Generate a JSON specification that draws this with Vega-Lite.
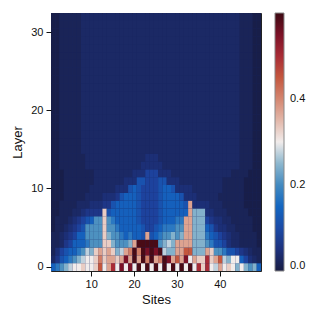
{"$schema":"https://vega.github.io/schema/vega-lite/v6.json","width":210,"height":258,"autosize":{"type":"none"},"padding":{"left":51,"top":13,"right":58,"bottom":48},"config":{"font":"Liberation Sans","view":{"stroke":"#222","strokeWidth":1,"fill":"#1b2862"}},
"data":{"values":[
{"s":1,"l":0,"v":0.14},{"s":2,"l":0,"v":0.175},{"s":3,"l":0,"v":0.21},{"s":4,"l":0,"v":0.245},{"s":5,"l":0,"v":0.275},{"s":6,"l":0,"v":0.3},{"s":7,"l":0,"v":0.3},{"s":8,"l":0,"v":0.33},{"s":9,"l":0,"v":0.3},{"s":10,"l":0,"v":0.3},{"s":11,"l":0,"v":0.33},{"s":12,"l":0,"v":0.45},{"s":13,"l":0,"v":0.3},{"s":14,"l":0,"v":0.37},{"s":15,"l":0,"v":0.5},{"s":16,"l":0,"v":0.3},{"s":17,"l":0,"v":0.55},{"s":18,"l":0,"v":0.3},{"s":19,"l":0,"v":0.55},{"s":20,"l":0,"v":0.3},{"s":21,"l":0,"v":0.59},{"s":22,"l":0,"v":0.3},{"s":23,"l":0,"v":0.59},{"s":24,"l":0,"v":0.3},{"s":25,"l":0,"v":0.59},{"s":26,"l":0,"v":0.3},{"s":27,"l":0,"v":0.59},{"s":28,"l":0,"v":0.3},{"s":29,"l":0,"v":0.59},{"s":30,"l":0,"v":0.3},{"s":31,"l":0,"v":0.59},{"s":32,"l":0,"v":0.3},{"s":33,"l":0,"v":0.59},{"s":34,"l":0,"v":0.3},{"s":35,"l":0,"v":0.5},{"s":36,"l":0,"v":0.33},{"s":37,"l":0,"v":0.5},{"s":38,"l":0,"v":0.3},{"s":39,"l":0,"v":0.275},{"s":40,"l":0,"v":0.37},{"s":41,"l":0,"v":0.3},{"s":42,"l":0,"v":0.33},{"s":43,"l":0,"v":0.3},{"s":44,"l":0,"v":0.245},{"s":45,"l":0,"v":0.3},{"s":46,"l":0,"v":0.245},{"s":47,"l":0,"v":0.21},{"s":48,"l":0,"v":0.245},{"s":49,"l":0,"v":0.14},
{"s":1,"l":1,"v":0.03},{"s":2,"l":1,"v":0.06},{"s":3,"l":1,"v":0.115},{"s":4,"l":1,"v":0.14},{"s":5,"l":1,"v":0.175},{"s":6,"l":1,"v":0.21},{"s":7,"l":1,"v":0.245},{"s":8,"l":1,"v":0.275},{"s":9,"l":1,"v":0.3},{"s":10,"l":1,"v":0.3},{"s":11,"l":1,"v":0.33},{"s":12,"l":1,"v":0.41},{"s":13,"l":1,"v":0.33},{"s":14,"l":1,"v":0.37},{"s":15,"l":1,"v":0.37},{"s":16,"l":1,"v":0.33},{"s":17,"l":1,"v":0.37},{"s":18,"l":1,"v":0.55},{"s":19,"l":1,"v":0.37},{"s":20,"l":1,"v":0.59},{"s":21,"l":1,"v":0.37},{"s":22,"l":1,"v":0.59},{"s":23,"l":1,"v":0.41},{"s":24,"l":1,"v":0.59},{"s":25,"l":1,"v":0.37},{"s":26,"l":1,"v":0.41},{"s":27,"l":1,"v":0.59},{"s":28,"l":1,"v":0.55},{"s":29,"l":1,"v":0.37},{"s":30,"l":1,"v":0.45},{"s":31,"l":1,"v":0.37},{"s":32,"l":1,"v":0.55},{"s":33,"l":1,"v":0.3},{"s":34,"l":1,"v":0.37},{"s":35,"l":1,"v":0.33},{"s":36,"l":1,"v":0.33},{"s":37,"l":1,"v":0.5},{"s":38,"l":1,"v":0.33},{"s":39,"l":1,"v":0.37},{"s":40,"l":1,"v":0.45},{"s":41,"l":1,"v":0.275},{"s":42,"l":1,"v":0.245},{"s":43,"l":1,"v":0.3},{"s":44,"l":1,"v":0.3},{"s":45,"l":1,"v":0.14},{"s":46,"l":1,"v":0.085},{"s":47,"l":1,"v":0.045},{"s":48,"l":1,"v":0.03},{"s":49,"l":1,"v":0.018},
{"s":1,"l":2,"v":0.018},{"s":2,"l":2,"v":0.045},{"s":3,"l":2,"v":0.085},{"s":4,"l":2,"v":0.115},{"s":5,"l":2,"v":0.14},{"s":6,"l":2,"v":0.14},{"s":7,"l":2,"v":0.175},{"s":8,"l":2,"v":0.21},{"s":9,"l":2,"v":0.275},{"s":10,"l":2,"v":0.245},{"s":11,"l":2,"v":0.33},{"s":12,"l":2,"v":0.37},{"s":13,"l":2,"v":0.33},{"s":14,"l":2,"v":0.37},{"s":15,"l":2,"v":0.33},{"s":16,"l":2,"v":0.245},{"s":17,"l":2,"v":0.275},{"s":18,"l":2,"v":0.37},{"s":19,"l":2,"v":0.41},{"s":20,"l":2,"v":0.59},{"s":21,"l":2,"v":0.41},{"s":22,"l":2,"v":0.59},{"s":23,"l":2,"v":0.55},{"s":24,"l":2,"v":0.59},{"s":25,"l":2,"v":0.55},{"s":26,"l":2,"v":0.59},{"s":27,"l":2,"v":0.275},{"s":28,"l":2,"v":0.245},{"s":29,"l":2,"v":0.245},{"s":30,"l":2,"v":0.37},{"s":31,"l":2,"v":0.37},{"s":32,"l":2,"v":0.45},{"s":33,"l":2,"v":0.45},{"s":34,"l":2,"v":0.245},{"s":35,"l":2,"v":0.245},{"s":36,"l":2,"v":0.245},{"s":37,"l":2,"v":0.37},{"s":38,"l":2,"v":0.33},{"s":39,"l":2,"v":0.21},{"s":40,"l":2,"v":0.21},{"s":41,"l":2,"v":0.175},{"s":42,"l":2,"v":0.115},{"s":43,"l":2,"v":0.115},{"s":44,"l":2,"v":0.085},{"s":45,"l":2,"v":0.06},{"s":46,"l":2,"v":0.045},{"s":47,"l":2,"v":0.03},{"s":48,"l":2,"v":0.018},{"s":49,"l":2,"v":0.018},
{"s":1,"l":3,"v":0.018},{"s":2,"l":3,"v":0.018},{"s":3,"l":3,"v":0.03},{"s":4,"l":3,"v":0.06},{"s":5,"l":3,"v":0.085},{"s":6,"l":3,"v":0.14},{"s":7,"l":3,"v":0.14},{"s":8,"l":3,"v":0.14},{"s":9,"l":3,"v":0.175},{"s":10,"l":3,"v":0.21},{"s":11,"l":3,"v":0.21},{"s":12,"l":3,"v":0.21},{"s":13,"l":3,"v":0.33},{"s":14,"l":3,"v":0.33},{"s":15,"l":3,"v":0.245},{"s":16,"l":3,"v":0.21},{"s":17,"l":3,"v":0.21},{"s":18,"l":3,"v":0.21},{"s":19,"l":3,"v":0.245},{"s":20,"l":3,"v":0.37},{"s":21,"l":3,"v":0.59},{"s":22,"l":3,"v":0.59},{"s":23,"l":3,"v":0.59},{"s":24,"l":3,"v":0.59},{"s":25,"l":3,"v":0.59},{"s":26,"l":3,"v":0.21},{"s":27,"l":3,"v":0.245},{"s":28,"l":3,"v":0.275},{"s":29,"l":3,"v":0.245},{"s":30,"l":3,"v":0.37},{"s":31,"l":3,"v":0.37},{"s":32,"l":3,"v":0.37},{"s":33,"l":3,"v":0.37},{"s":34,"l":3,"v":0.245},{"s":35,"l":3,"v":0.245},{"s":36,"l":3,"v":0.245},{"s":37,"l":3,"v":0.21},{"s":38,"l":3,"v":0.175},{"s":39,"l":3,"v":0.115},{"s":40,"l":3,"v":0.115},{"s":41,"l":3,"v":0.085},{"s":42,"l":3,"v":0.045},{"s":43,"l":3,"v":0.03},{"s":44,"l":3,"v":0.03},{"s":45,"l":3,"v":0.018},{"s":46,"l":3,"v":0.018},{"s":47,"l":3,"v":0.018},{"s":48,"l":3,"v":0.018},{"s":49,"l":3,"v":0.005},
{"s":1,"l":4,"v":0.018},{"s":2,"l":4,"v":0.018},{"s":3,"l":4,"v":0.03},{"s":4,"l":4,"v":0.045},{"s":5,"l":4,"v":0.06},{"s":6,"l":4,"v":0.085},{"s":7,"l":4,"v":0.14},{"s":8,"l":4,"v":0.14},{"s":9,"l":4,"v":0.21},{"s":10,"l":4,"v":0.21},{"s":11,"l":4,"v":0.21},{"s":12,"l":4,"v":0.21},{"s":13,"l":4,"v":0.33},{"s":14,"l":4,"v":0.245},{"s":15,"l":4,"v":0.21},{"s":16,"l":4,"v":0.21},{"s":17,"l":4,"v":0.175},{"s":18,"l":4,"v":0.14},{"s":19,"l":4,"v":0.175},{"s":20,"l":4,"v":0.14},{"s":21,"l":4,"v":0.14},{"s":22,"l":4,"v":0.115},{"s":23,"l":4,"v":0.37},{"s":24,"l":4,"v":0.115},{"s":25,"l":4,"v":0.14},{"s":26,"l":4,"v":0.175},{"s":27,"l":4,"v":0.21},{"s":28,"l":4,"v":0.21},{"s":29,"l":4,"v":0.245},{"s":30,"l":4,"v":0.21},{"s":31,"l":4,"v":0.245},{"s":32,"l":4,"v":0.37},{"s":33,"l":4,"v":0.37},{"s":34,"l":4,"v":0.245},{"s":35,"l":4,"v":0.245},{"s":36,"l":4,"v":0.245},{"s":37,"l":4,"v":0.175},{"s":38,"l":4,"v":0.14},{"s":39,"l":4,"v":0.115},{"s":40,"l":4,"v":0.085},{"s":41,"l":4,"v":0.06},{"s":42,"l":4,"v":0.045},{"s":43,"l":4,"v":0.03},{"s":44,"l":4,"v":0.03},{"s":45,"l":4,"v":0.018},{"s":46,"l":4,"v":0.018},{"s":47,"l":4,"v":0.018},{"s":48,"l":4,"v":0.018},{"s":49,"l":4,"v":0.005},
{"s":1,"l":5,"v":0.005},{"s":2,"l":5,"v":0.018},{"s":3,"l":5,"v":0.018},{"s":4,"l":5,"v":0.03},{"s":5,"l":5,"v":0.045},{"s":6,"l":5,"v":0.06},{"s":7,"l":5,"v":0.085},{"s":8,"l":5,"v":0.115},{"s":9,"l":5,"v":0.21},{"s":10,"l":5,"v":0.21},{"s":11,"l":5,"v":0.21},{"s":12,"l":5,"v":0.21},{"s":13,"l":5,"v":0.33},{"s":14,"l":5,"v":0.21},{"s":15,"l":5,"v":0.21},{"s":16,"l":5,"v":0.175},{"s":17,"l":5,"v":0.14},{"s":18,"l":5,"v":0.14},{"s":19,"l":5,"v":0.14},{"s":20,"l":5,"v":0.14},{"s":21,"l":5,"v":0.14},{"s":22,"l":5,"v":0.115},{"s":23,"l":5,"v":0.085},{"s":24,"l":5,"v":0.085},{"s":25,"l":5,"v":0.115},{"s":26,"l":5,"v":0.14},{"s":27,"l":5,"v":0.175},{"s":28,"l":5,"v":0.175},{"s":29,"l":5,"v":0.175},{"s":30,"l":5,"v":0.21},{"s":31,"l":5,"v":0.21},{"s":32,"l":5,"v":0.37},{"s":33,"l":5,"v":0.37},{"s":34,"l":5,"v":0.245},{"s":35,"l":5,"v":0.245},{"s":36,"l":5,"v":0.245},{"s":37,"l":5,"v":0.14},{"s":38,"l":5,"v":0.115},{"s":39,"l":5,"v":0.06},{"s":40,"l":5,"v":0.045},{"s":41,"l":5,"v":0.045},{"s":42,"l":5,"v":0.03},{"s":43,"l":5,"v":0.03},{"s":44,"l":5,"v":0.018},{"s":45,"l":5,"v":0.018},{"s":46,"l":5,"v":0.018},{"s":47,"l":5,"v":0.018},{"s":48,"l":5,"v":0.005},{"s":49,"l":5,"v":0.005},
{"s":1,"l":6,"v":0.005},{"s":2,"l":6,"v":0.018},{"s":3,"l":6,"v":0.018},{"s":4,"l":6,"v":0.018},{"s":5,"l":6,"v":0.03},{"s":6,"l":6,"v":0.045},{"s":7,"l":6,"v":0.06},{"s":8,"l":6,"v":0.085},{"s":9,"l":6,"v":0.115},{"s":10,"l":6,"v":0.14},{"s":11,"l":6,"v":0.21},{"s":12,"l":6,"v":0.21},{"s":13,"l":6,"v":0.33},{"s":14,"l":6,"v":0.21},{"s":15,"l":6,"v":0.175},{"s":16,"l":6,"v":0.14},{"s":17,"l":6,"v":0.14},{"s":18,"l":6,"v":0.14},{"s":19,"l":6,"v":0.14},{"s":20,"l":6,"v":0.14},{"s":21,"l":6,"v":0.115},{"s":22,"l":6,"v":0.085},{"s":23,"l":6,"v":0.085},{"s":24,"l":6,"v":0.085},{"s":25,"l":6,"v":0.085},{"s":26,"l":6,"v":0.115},{"s":27,"l":6,"v":0.14},{"s":28,"l":6,"v":0.14},{"s":29,"l":6,"v":0.14},{"s":30,"l":6,"v":0.175},{"s":31,"l":6,"v":0.175},{"s":32,"l":6,"v":0.37},{"s":33,"l":6,"v":0.37},{"s":34,"l":6,"v":0.245},{"s":35,"l":6,"v":0.245},{"s":36,"l":6,"v":0.245},{"s":37,"l":6,"v":0.085},{"s":38,"l":6,"v":0.06},{"s":39,"l":6,"v":0.045},{"s":40,"l":6,"v":0.045},{"s":41,"l":6,"v":0.03},{"s":42,"l":6,"v":0.03},{"s":43,"l":6,"v":0.018},{"s":44,"l":6,"v":0.018},{"s":45,"l":6,"v":0.018},{"s":46,"l":6,"v":0.018},{"s":47,"l":6,"v":0.018},{"s":48,"l":6,"v":0.005},{"s":49,"l":6,"v":0.005},
{"s":1,"l":7,"v":0.005},{"s":2,"l":7,"v":0.005},{"s":3,"l":7,"v":0.018},{"s":4,"l":7,"v":0.018},{"s":5,"l":7,"v":0.018},{"s":6,"l":7,"v":0.03},{"s":7,"l":7,"v":0.03},{"s":8,"l":7,"v":0.045},{"s":9,"l":7,"v":0.06},{"s":10,"l":7,"v":0.06},{"s":11,"l":7,"v":0.06},{"s":12,"l":7,"v":0.06},{"s":13,"l":7,"v":0.33},{"s":14,"l":7,"v":0.115},{"s":15,"l":7,"v":0.14},{"s":16,"l":7,"v":0.14},{"s":17,"l":7,"v":0.14},{"s":18,"l":7,"v":0.14},{"s":19,"l":7,"v":0.14},{"s":20,"l":7,"v":0.14},{"s":21,"l":7,"v":0.115},{"s":22,"l":7,"v":0.085},{"s":23,"l":7,"v":0.085},{"s":24,"l":7,"v":0.085},{"s":25,"l":7,"v":0.085},{"s":26,"l":7,"v":0.115},{"s":27,"l":7,"v":0.14},{"s":28,"l":7,"v":0.14},{"s":29,"l":7,"v":0.14},{"s":30,"l":7,"v":0.14},{"s":31,"l":7,"v":0.14},{"s":32,"l":7,"v":0.14},{"s":33,"l":7,"v":0.37},{"s":34,"l":7,"v":0.245},{"s":35,"l":7,"v":0.245},{"s":36,"l":7,"v":0.245},{"s":37,"l":7,"v":0.045},{"s":38,"l":7,"v":0.045},{"s":39,"l":7,"v":0.03},{"s":40,"l":7,"v":0.03},{"s":41,"l":7,"v":0.03},{"s":42,"l":7,"v":0.018},{"s":43,"l":7,"v":0.018},{"s":44,"l":7,"v":0.018},{"s":45,"l":7,"v":0.018},{"s":46,"l":7,"v":0.018},{"s":47,"l":7,"v":0.005},{"s":48,"l":7,"v":0.005},{"s":49,"l":7,"v":0.005},
{"s":1,"l":8,"v":0.005},{"s":2,"l":8,"v":0.005},{"s":3,"l":8,"v":0.018},{"s":4,"l":8,"v":0.018},{"s":5,"l":8,"v":0.018},{"s":6,"l":8,"v":0.018},{"s":7,"l":8,"v":0.03},{"s":8,"l":8,"v":0.03},{"s":9,"l":8,"v":0.03},{"s":10,"l":8,"v":0.045},{"s":11,"l":8,"v":0.045},{"s":12,"l":8,"v":0.045},{"s":13,"l":8,"v":0.06},{"s":14,"l":8,"v":0.06},{"s":15,"l":8,"v":0.115},{"s":16,"l":8,"v":0.14},{"s":17,"l":8,"v":0.14},{"s":18,"l":8,"v":0.14},{"s":19,"l":8,"v":0.14},{"s":20,"l":8,"v":0.14},{"s":21,"l":8,"v":0.115},{"s":22,"l":8,"v":0.085},{"s":23,"l":8,"v":0.085},{"s":24,"l":8,"v":0.085},{"s":25,"l":8,"v":0.085},{"s":26,"l":8,"v":0.115},{"s":27,"l":8,"v":0.14},{"s":28,"l":8,"v":0.14},{"s":29,"l":8,"v":0.14},{"s":30,"l":8,"v":0.14},{"s":31,"l":8,"v":0.14},{"s":32,"l":8,"v":0.115},{"s":33,"l":8,"v":0.37},{"s":34,"l":8,"v":0.045},{"s":35,"l":8,"v":0.045},{"s":36,"l":8,"v":0.045},{"s":37,"l":8,"v":0.045},{"s":38,"l":8,"v":0.03},{"s":39,"l":8,"v":0.03},{"s":40,"l":8,"v":0.03},{"s":41,"l":8,"v":0.018},{"s":42,"l":8,"v":0.018},{"s":43,"l":8,"v":0.018},{"s":44,"l":8,"v":0.018},{"s":45,"l":8,"v":0.018},{"s":46,"l":8,"v":0.005},{"s":47,"l":8,"v":0.005},{"s":48,"l":8,"v":0.005},{"s":49,"l":8,"v":0.005},
{"s":1,"l":9,"v":0.005},{"s":2,"l":9,"v":0.005},{"s":3,"l":9,"v":0.005},{"s":4,"l":9,"v":0.018},{"s":5,"l":9,"v":0.018},{"s":6,"l":9,"v":0.018},{"s":7,"l":9,"v":0.018},{"s":8,"l":9,"v":0.018},{"s":9,"l":9,"v":0.03},{"s":10,"l":9,"v":0.03},{"s":11,"l":9,"v":0.03},{"s":12,"l":9,"v":0.03},{"s":13,"l":9,"v":0.045},{"s":14,"l":9,"v":0.045},{"s":15,"l":9,"v":0.045},{"s":16,"l":9,"v":0.06},{"s":17,"l":9,"v":0.115},{"s":18,"l":9,"v":0.14},{"s":19,"l":9,"v":0.14},{"s":20,"l":9,"v":0.14},{"s":21,"l":9,"v":0.115},{"s":22,"l":9,"v":0.085},{"s":23,"l":9,"v":0.085},{"s":24,"l":9,"v":0.085},{"s":25,"l":9,"v":0.085},{"s":26,"l":9,"v":0.115},{"s":27,"l":9,"v":0.14},{"s":28,"l":9,"v":0.14},{"s":29,"l":9,"v":0.14},{"s":30,"l":9,"v":0.14},{"s":31,"l":9,"v":0.115},{"s":32,"l":9,"v":0.045},{"s":33,"l":9,"v":0.045},{"s":34,"l":9,"v":0.045},{"s":35,"l":9,"v":0.03},{"s":36,"l":9,"v":0.03},{"s":37,"l":9,"v":0.03},{"s":38,"l":9,"v":0.03},{"s":39,"l":9,"v":0.03},{"s":40,"l":9,"v":0.018},{"s":41,"l":9,"v":0.018},{"s":42,"l":9,"v":0.018},{"s":43,"l":9,"v":0.018},{"s":44,"l":9,"v":0.018},{"s":45,"l":9,"v":0.018},{"s":46,"l":9,"v":0.005},{"s":47,"l":9,"v":0.005},{"s":48,"l":9,"v":0.005},{"s":49,"l":9,"v":0.005},
{"s":1,"l":10,"v":0.005},{"s":2,"l":10,"v":0.005},{"s":3,"l":10,"v":0.005},{"s":4,"l":10,"v":0.018},{"s":5,"l":10,"v":0.018},{"s":6,"l":10,"v":0.018},{"s":7,"l":10,"v":0.018},{"s":8,"l":10,"v":0.018},{"s":9,"l":10,"v":0.018},{"s":10,"l":10,"v":0.03},{"s":11,"l":10,"v":0.03},{"s":12,"l":10,"v":0.03},{"s":13,"l":10,"v":0.03},{"s":14,"l":10,"v":0.03},{"s":15,"l":10,"v":0.03},{"s":16,"l":10,"v":0.045},{"s":17,"l":10,"v":0.045},{"s":18,"l":10,"v":0.045},{"s":19,"l":10,"v":0.115},{"s":20,"l":10,"v":0.14},{"s":21,"l":10,"v":0.115},{"s":22,"l":10,"v":0.085},{"s":23,"l":10,"v":0.085},{"s":24,"l":10,"v":0.085},{"s":25,"l":10,"v":0.085},{"s":26,"l":10,"v":0.115},{"s":27,"l":10,"v":0.14},{"s":28,"l":10,"v":0.14},{"s":29,"l":10,"v":0.115},{"s":30,"l":10,"v":0.045},{"s":31,"l":10,"v":0.045},{"s":32,"l":10,"v":0.045},{"s":33,"l":10,"v":0.045},{"s":34,"l":10,"v":0.03},{"s":35,"l":10,"v":0.03},{"s":36,"l":10,"v":0.03},{"s":37,"l":10,"v":0.03},{"s":38,"l":10,"v":0.03},{"s":39,"l":10,"v":0.03},{"s":40,"l":10,"v":0.03},{"s":41,"l":10,"v":0.018},{"s":42,"l":10,"v":0.018},{"s":43,"l":10,"v":0.018},{"s":44,"l":10,"v":0.018},{"s":45,"l":10,"v":0.018},{"s":46,"l":10,"v":0.005},{"s":47,"l":10,"v":0.005},{"s":48,"l":10,"v":0.005},{"s":49,"l":10,"v":0.005},
{"s":1,"l":11,"v":0.005},{"s":2,"l":11,"v":0.005},{"s":3,"l":11,"v":0.005},{"s":4,"l":11,"v":0.018},{"s":5,"l":11,"v":0.018},{"s":6,"l":11,"v":0.018},{"s":7,"l":11,"v":0.018},{"s":8,"l":11,"v":0.018},{"s":9,"l":11,"v":0.018},{"s":10,"l":11,"v":0.018},{"s":11,"l":11,"v":0.03},{"s":12,"l":11,"v":0.03},{"s":13,"l":11,"v":0.03},{"s":14,"l":11,"v":0.03},{"s":15,"l":11,"v":0.03},{"s":16,"l":11,"v":0.03},{"s":17,"l":11,"v":0.03},{"s":18,"l":11,"v":0.045},{"s":19,"l":11,"v":0.045},{"s":20,"l":11,"v":0.045},{"s":21,"l":11,"v":0.115},{"s":22,"l":11,"v":0.115},{"s":23,"l":11,"v":0.085},{"s":24,"l":11,"v":0.085},{"s":25,"l":11,"v":0.085},{"s":26,"l":11,"v":0.115},{"s":27,"l":11,"v":0.115},{"s":28,"l":11,"v":0.045},{"s":29,"l":11,"v":0.045},{"s":30,"l":11,"v":0.045},{"s":31,"l":11,"v":0.03},{"s":32,"l":11,"v":0.03},{"s":33,"l":11,"v":0.03},{"s":34,"l":11,"v":0.03},{"s":35,"l":11,"v":0.03},{"s":36,"l":11,"v":0.03},{"s":37,"l":11,"v":0.03},{"s":38,"l":11,"v":0.03},{"s":39,"l":11,"v":0.03},{"s":40,"l":11,"v":0.03},{"s":41,"l":11,"v":0.018},{"s":42,"l":11,"v":0.018},{"s":43,"l":11,"v":0.018},{"s":44,"l":11,"v":0.018},{"s":45,"l":11,"v":0.018},{"s":46,"l":11,"v":0.005},{"s":47,"l":11,"v":0.005},{"s":48,"l":11,"v":0.005},{"s":49,"l":11,"v":0.005},
{"s":1,"l":12,"v":0.005},{"s":2,"l":12,"v":0.005},{"s":3,"l":12,"v":0.005},{"s":4,"l":12,"v":0.018},{"s":5,"l":12,"v":0.018},{"s":6,"l":12,"v":0.018},{"s":7,"l":12,"v":0.018},{"s":8,"l":12,"v":0.018},{"s":9,"l":12,"v":0.018},{"s":10,"l":12,"v":0.018},{"s":11,"l":12,"v":0.03},{"s":12,"l":12,"v":0.03},{"s":13,"l":12,"v":0.03},{"s":14,"l":12,"v":0.03},{"s":15,"l":12,"v":0.03},{"s":16,"l":12,"v":0.03},{"s":17,"l":12,"v":0.03},{"s":18,"l":12,"v":0.03},{"s":19,"l":12,"v":0.03},{"s":20,"l":12,"v":0.045},{"s":21,"l":12,"v":0.045},{"s":22,"l":12,"v":0.045},{"s":23,"l":12,"v":0.085},{"s":24,"l":12,"v":0.085},{"s":25,"l":12,"v":0.085},{"s":26,"l":12,"v":0.045},{"s":27,"l":12,"v":0.045},{"s":28,"l":12,"v":0.045},{"s":29,"l":12,"v":0.03},{"s":30,"l":12,"v":0.03},{"s":31,"l":12,"v":0.03},{"s":32,"l":12,"v":0.03},{"s":33,"l":12,"v":0.03},{"s":34,"l":12,"v":0.03},{"s":35,"l":12,"v":0.03},{"s":36,"l":12,"v":0.03},{"s":37,"l":12,"v":0.03},{"s":38,"l":12,"v":0.03},{"s":39,"l":12,"v":0.03},{"s":40,"l":12,"v":0.03},{"s":41,"l":12,"v":0.03},{"s":42,"l":12,"v":0.03},{"s":43,"l":12,"v":0.018},{"s":44,"l":12,"v":0.018},{"s":45,"l":12,"v":0.018},{"s":46,"l":12,"v":0.018},{"s":47,"l":12,"v":0.005},{"s":48,"l":12,"v":0.005},{"s":49,"l":12,"v":0.005},
{"s":1,"l":13,"v":0.005},{"s":2,"l":13,"v":0.005},{"s":3,"l":13,"v":0.018},{"s":4,"l":13,"v":0.018},{"s":5,"l":13,"v":0.018},{"s":6,"l":13,"v":0.018},{"s":7,"l":13,"v":0.018},{"s":8,"l":13,"v":0.018},{"s":9,"l":13,"v":0.03},{"s":10,"l":13,"v":0.03},{"s":11,"l":13,"v":0.03},{"s":12,"l":13,"v":0.03},{"s":13,"l":13,"v":0.03},{"s":14,"l":13,"v":0.03},{"s":15,"l":13,"v":0.03},{"s":16,"l":13,"v":0.03},{"s":17,"l":13,"v":0.03},{"s":18,"l":13,"v":0.03},{"s":19,"l":13,"v":0.03},{"s":20,"l":13,"v":0.03},{"s":21,"l":13,"v":0.03},{"s":22,"l":13,"v":0.045},{"s":23,"l":13,"v":0.045},{"s":24,"l":13,"v":0.045},{"s":25,"l":13,"v":0.045},{"s":26,"l":13,"v":0.045},{"s":27,"l":13,"v":0.03},{"s":28,"l":13,"v":0.03},{"s":29,"l":13,"v":0.03},{"s":30,"l":13,"v":0.03},{"s":31,"l":13,"v":0.03},{"s":32,"l":13,"v":0.03},{"s":33,"l":13,"v":0.03},{"s":34,"l":13,"v":0.03},{"s":35,"l":13,"v":0.03},{"s":36,"l":13,"v":0.03},{"s":37,"l":13,"v":0.03},{"s":38,"l":13,"v":0.03},{"s":39,"l":13,"v":0.03},{"s":40,"l":13,"v":0.03},{"s":41,"l":13,"v":0.03},{"s":42,"l":13,"v":0.03},{"s":43,"l":13,"v":0.03},{"s":44,"l":13,"v":0.03},{"s":45,"l":13,"v":0.018},{"s":46,"l":13,"v":0.018},{"s":47,"l":13,"v":0.018},{"s":48,"l":13,"v":0.005},{"s":49,"l":13,"v":0.005},
{"s":1,"l":14,"v":0.005},{"s":2,"l":14,"v":0.005},{"s":3,"l":14,"v":0.018},{"s":4,"l":14,"v":0.018},{"s":5,"l":14,"v":0.018},{"s":6,"l":14,"v":0.018},{"s":7,"l":14,"v":0.018},{"s":8,"l":14,"v":0.018},{"s":9,"l":14,"v":0.03},{"s":10,"l":14,"v":0.03},{"s":11,"l":14,"v":0.03},{"s":12,"l":14,"v":0.03},{"s":13,"l":14,"v":0.03},{"s":14,"l":14,"v":0.03},{"s":15,"l":14,"v":0.03},{"s":16,"l":14,"v":0.03},{"s":17,"l":14,"v":0.03},{"s":18,"l":14,"v":0.03},{"s":19,"l":14,"v":0.03},{"s":20,"l":14,"v":0.03},{"s":21,"l":14,"v":0.03},{"s":22,"l":14,"v":0.03},{"s":23,"l":14,"v":0.045},{"s":24,"l":14,"v":0.045},{"s":25,"l":14,"v":0.045},{"s":26,"l":14,"v":0.03},{"s":27,"l":14,"v":0.03},{"s":28,"l":14,"v":0.03},{"s":29,"l":14,"v":0.03},{"s":30,"l":14,"v":0.03},{"s":31,"l":14,"v":0.03},{"s":32,"l":14,"v":0.03},{"s":33,"l":14,"v":0.03},{"s":34,"l":14,"v":0.03},{"s":35,"l":14,"v":0.03},{"s":36,"l":14,"v":0.03},{"s":37,"l":14,"v":0.03},{"s":38,"l":14,"v":0.03},{"s":39,"l":14,"v":0.03},{"s":40,"l":14,"v":0.03},{"s":41,"l":14,"v":0.03},{"s":42,"l":14,"v":0.03},{"s":43,"l":14,"v":0.03},{"s":44,"l":14,"v":0.03},{"s":45,"l":14,"v":0.018},{"s":46,"l":14,"v":0.018},{"s":47,"l":14,"v":0.018},{"s":48,"l":14,"v":0.005},{"s":49,"l":14,"v":0.005},
{"s":1,"l":15,"v":0.005},{"s":2,"l":15,"v":0.005},{"s":3,"l":15,"v":0.018},{"s":4,"l":15,"v":0.018},{"s":5,"l":15,"v":0.018},{"s":6,"l":15,"v":0.018},{"s":7,"l":15,"v":0.018},{"s":8,"l":15,"v":0.03},{"s":9,"l":15,"v":0.03},{"s":10,"l":15,"v":0.03},{"s":11,"l":15,"v":0.03},{"s":12,"l":15,"v":0.03},{"s":13,"l":15,"v":0.03},{"s":14,"l":15,"v":0.03},{"s":15,"l":15,"v":0.03},{"s":16,"l":15,"v":0.03},{"s":17,"l":15,"v":0.03},{"s":18,"l":15,"v":0.03},{"s":19,"l":15,"v":0.03},{"s":20,"l":15,"v":0.03},{"s":21,"l":15,"v":0.03},{"s":22,"l":15,"v":0.03},{"s":23,"l":15,"v":0.03},{"s":24,"l":15,"v":0.03},{"s":25,"l":15,"v":0.03},{"s":26,"l":15,"v":0.03},{"s":27,"l":15,"v":0.03},{"s":28,"l":15,"v":0.03},{"s":29,"l":15,"v":0.03},{"s":30,"l":15,"v":0.03},{"s":31,"l":15,"v":0.03},{"s":32,"l":15,"v":0.03},{"s":33,"l":15,"v":0.03},{"s":34,"l":15,"v":0.03},{"s":35,"l":15,"v":0.03},{"s":36,"l":15,"v":0.03},{"s":37,"l":15,"v":0.03},{"s":38,"l":15,"v":0.03},{"s":39,"l":15,"v":0.03},{"s":40,"l":15,"v":0.03},{"s":41,"l":15,"v":0.03},{"s":42,"l":15,"v":0.03},{"s":43,"l":15,"v":0.03},{"s":44,"l":15,"v":0.03},{"s":45,"l":15,"v":0.018},{"s":46,"l":15,"v":0.018},{"s":47,"l":15,"v":0.018},{"s":48,"l":15,"v":0.005},{"s":49,"l":15,"v":0.005},
{"s":1,"l":16,"v":0.005},{"s":2,"l":16,"v":0.005},{"s":3,"l":16,"v":0.018},{"s":4,"l":16,"v":0.018},{"s":5,"l":16,"v":0.018},{"s":6,"l":16,"v":0.018},{"s":7,"l":16,"v":0.018},{"s":8,"l":16,"v":0.03},{"s":9,"l":16,"v":0.03},{"s":10,"l":16,"v":0.03},{"s":11,"l":16,"v":0.03},{"s":12,"l":16,"v":0.03},{"s":13,"l":16,"v":0.03},{"s":14,"l":16,"v":0.03},{"s":15,"l":16,"v":0.03},{"s":16,"l":16,"v":0.03},{"s":17,"l":16,"v":0.03},{"s":18,"l":16,"v":0.03},{"s":19,"l":16,"v":0.03},{"s":20,"l":16,"v":0.03},{"s":21,"l":16,"v":0.03},{"s":22,"l":16,"v":0.03},{"s":23,"l":16,"v":0.03},{"s":24,"l":16,"v":0.03},{"s":25,"l":16,"v":0.03},{"s":26,"l":16,"v":0.03},{"s":27,"l":16,"v":0.03},{"s":28,"l":16,"v":0.03},{"s":29,"l":16,"v":0.03},{"s":30,"l":16,"v":0.03},{"s":31,"l":16,"v":0.03},{"s":32,"l":16,"v":0.03},{"s":33,"l":16,"v":0.03},{"s":34,"l":16,"v":0.03},{"s":35,"l":16,"v":0.03},{"s":36,"l":16,"v":0.03},{"s":37,"l":16,"v":0.03},{"s":38,"l":16,"v":0.03},{"s":39,"l":16,"v":0.03},{"s":40,"l":16,"v":0.03},{"s":41,"l":16,"v":0.03},{"s":42,"l":16,"v":0.03},{"s":43,"l":16,"v":0.03},{"s":44,"l":16,"v":0.03},{"s":45,"l":16,"v":0.018},{"s":46,"l":16,"v":0.018},{"s":47,"l":16,"v":0.018},{"s":48,"l":16,"v":0.005},{"s":49,"l":16,"v":0.005},
{"s":1,"l":17,"v":0.005},{"s":2,"l":17,"v":0.005},{"s":3,"l":17,"v":0.018},{"s":4,"l":17,"v":0.018},{"s":5,"l":17,"v":0.018},{"s":6,"l":17,"v":0.018},{"s":7,"l":17,"v":0.018},{"s":8,"l":17,"v":0.03},{"s":9,"l":17,"v":0.03},{"s":10,"l":17,"v":0.03},{"s":11,"l":17,"v":0.03},{"s":12,"l":17,"v":0.03},{"s":13,"l":17,"v":0.03},{"s":14,"l":17,"v":0.03},{"s":15,"l":17,"v":0.03},{"s":16,"l":17,"v":0.03},{"s":17,"l":17,"v":0.03},{"s":18,"l":17,"v":0.03},{"s":19,"l":17,"v":0.03},{"s":20,"l":17,"v":0.03},{"s":21,"l":17,"v":0.03},{"s":22,"l":17,"v":0.03},{"s":23,"l":17,"v":0.03},{"s":24,"l":17,"v":0.03},{"s":25,"l":17,"v":0.03},{"s":26,"l":17,"v":0.03},{"s":27,"l":17,"v":0.03},{"s":28,"l":17,"v":0.03},{"s":29,"l":17,"v":0.03},{"s":30,"l":17,"v":0.03},{"s":31,"l":17,"v":0.03},{"s":32,"l":17,"v":0.03},{"s":33,"l":17,"v":0.03},{"s":34,"l":17,"v":0.03},{"s":35,"l":17,"v":0.03},{"s":36,"l":17,"v":0.03},{"s":37,"l":17,"v":0.03},{"s":38,"l":17,"v":0.03},{"s":39,"l":17,"v":0.03},{"s":40,"l":17,"v":0.03},{"s":41,"l":17,"v":0.03},{"s":42,"l":17,"v":0.03},{"s":43,"l":17,"v":0.03},{"s":44,"l":17,"v":0.03},{"s":45,"l":17,"v":0.018},{"s":46,"l":17,"v":0.018},{"s":47,"l":17,"v":0.018},{"s":48,"l":17,"v":0.005},{"s":49,"l":17,"v":0.005},
{"s":1,"l":18,"v":0.005},{"s":2,"l":18,"v":0.005},{"s":3,"l":18,"v":0.018},{"s":4,"l":18,"v":0.018},{"s":5,"l":18,"v":0.018},{"s":6,"l":18,"v":0.018},{"s":7,"l":18,"v":0.018},{"s":8,"l":18,"v":0.03},{"s":9,"l":18,"v":0.03},{"s":10,"l":18,"v":0.03},{"s":11,"l":18,"v":0.03},{"s":12,"l":18,"v":0.03},{"s":13,"l":18,"v":0.03},{"s":14,"l":18,"v":0.03},{"s":15,"l":18,"v":0.03},{"s":16,"l":18,"v":0.03},{"s":17,"l":18,"v":0.03},{"s":18,"l":18,"v":0.03},{"s":19,"l":18,"v":0.03},{"s":20,"l":18,"v":0.03},{"s":21,"l":18,"v":0.03},{"s":22,"l":18,"v":0.03},{"s":23,"l":18,"v":0.03},{"s":24,"l":18,"v":0.03},{"s":25,"l":18,"v":0.03},{"s":26,"l":18,"v":0.03},{"s":27,"l":18,"v":0.03},{"s":28,"l":18,"v":0.03},{"s":29,"l":18,"v":0.03},{"s":30,"l":18,"v":0.03},{"s":31,"l":18,"v":0.03},{"s":32,"l":18,"v":0.03},{"s":33,"l":18,"v":0.03},{"s":34,"l":18,"v":0.03},{"s":35,"l":18,"v":0.03},{"s":36,"l":18,"v":0.03},{"s":37,"l":18,"v":0.03},{"s":38,"l":18,"v":0.03},{"s":39,"l":18,"v":0.03},{"s":40,"l":18,"v":0.03},{"s":41,"l":18,"v":0.03},{"s":42,"l":18,"v":0.03},{"s":43,"l":18,"v":0.03},{"s":44,"l":18,"v":0.03},{"s":45,"l":18,"v":0.018},{"s":46,"l":18,"v":0.018},{"s":47,"l":18,"v":0.018},{"s":48,"l":18,"v":0.005},{"s":49,"l":18,"v":0.005},
{"s":1,"l":19,"v":0.005},{"s":2,"l":19,"v":0.005},{"s":3,"l":19,"v":0.018},{"s":4,"l":19,"v":0.018},{"s":5,"l":19,"v":0.018},{"s":6,"l":19,"v":0.018},{"s":7,"l":19,"v":0.018},{"s":8,"l":19,"v":0.03},{"s":9,"l":19,"v":0.03},{"s":10,"l":19,"v":0.03},{"s":11,"l":19,"v":0.03},{"s":12,"l":19,"v":0.03},{"s":13,"l":19,"v":0.03},{"s":14,"l":19,"v":0.03},{"s":15,"l":19,"v":0.03},{"s":16,"l":19,"v":0.03},{"s":17,"l":19,"v":0.03},{"s":18,"l":19,"v":0.03},{"s":19,"l":19,"v":0.03},{"s":20,"l":19,"v":0.03},{"s":21,"l":19,"v":0.03},{"s":22,"l":19,"v":0.03},{"s":23,"l":19,"v":0.03},{"s":24,"l":19,"v":0.03},{"s":25,"l":19,"v":0.03},{"s":26,"l":19,"v":0.03},{"s":27,"l":19,"v":0.03},{"s":28,"l":19,"v":0.03},{"s":29,"l":19,"v":0.03},{"s":30,"l":19,"v":0.03},{"s":31,"l":19,"v":0.03},{"s":32,"l":19,"v":0.03},{"s":33,"l":19,"v":0.03},{"s":34,"l":19,"v":0.03},{"s":35,"l":19,"v":0.03},{"s":36,"l":19,"v":0.03},{"s":37,"l":19,"v":0.03},{"s":38,"l":19,"v":0.03},{"s":39,"l":19,"v":0.03},{"s":40,"l":19,"v":0.03},{"s":41,"l":19,"v":0.03},{"s":42,"l":19,"v":0.03},{"s":43,"l":19,"v":0.03},{"s":44,"l":19,"v":0.03},{"s":45,"l":19,"v":0.018},{"s":46,"l":19,"v":0.018},{"s":47,"l":19,"v":0.018},{"s":48,"l":19,"v":0.005},{"s":49,"l":19,"v":0.005},
{"s":1,"l":20,"v":0.005},{"s":2,"l":20,"v":0.005},{"s":3,"l":20,"v":0.018},{"s":4,"l":20,"v":0.018},{"s":5,"l":20,"v":0.018},{"s":6,"l":20,"v":0.018},{"s":7,"l":20,"v":0.018},{"s":8,"l":20,"v":0.03},{"s":9,"l":20,"v":0.03},{"s":10,"l":20,"v":0.03},{"s":11,"l":20,"v":0.03},{"s":12,"l":20,"v":0.03},{"s":13,"l":20,"v":0.03},{"s":14,"l":20,"v":0.03},{"s":15,"l":20,"v":0.03},{"s":16,"l":20,"v":0.03},{"s":17,"l":20,"v":0.03},{"s":18,"l":20,"v":0.03},{"s":19,"l":20,"v":0.03},{"s":20,"l":20,"v":0.03},{"s":21,"l":20,"v":0.03},{"s":22,"l":20,"v":0.03},{"s":23,"l":20,"v":0.03},{"s":24,"l":20,"v":0.03},{"s":25,"l":20,"v":0.03},{"s":26,"l":20,"v":0.03},{"s":27,"l":20,"v":0.03},{"s":28,"l":20,"v":0.03},{"s":29,"l":20,"v":0.03},{"s":30,"l":20,"v":0.03},{"s":31,"l":20,"v":0.03},{"s":32,"l":20,"v":0.03},{"s":33,"l":20,"v":0.03},{"s":34,"l":20,"v":0.03},{"s":35,"l":20,"v":0.03},{"s":36,"l":20,"v":0.03},{"s":37,"l":20,"v":0.03},{"s":38,"l":20,"v":0.03},{"s":39,"l":20,"v":0.03},{"s":40,"l":20,"v":0.03},{"s":41,"l":20,"v":0.03},{"s":42,"l":20,"v":0.03},{"s":43,"l":20,"v":0.03},{"s":44,"l":20,"v":0.03},{"s":45,"l":20,"v":0.018},{"s":46,"l":20,"v":0.018},{"s":47,"l":20,"v":0.018},{"s":48,"l":20,"v":0.005},{"s":49,"l":20,"v":0.005},
{"s":1,"l":21,"v":0.005},{"s":2,"l":21,"v":0.005},{"s":3,"l":21,"v":0.018},{"s":4,"l":21,"v":0.018},{"s":5,"l":21,"v":0.018},{"s":6,"l":21,"v":0.018},{"s":7,"l":21,"v":0.018},{"s":8,"l":21,"v":0.03},{"s":9,"l":21,"v":0.03},{"s":10,"l":21,"v":0.03},{"s":11,"l":21,"v":0.03},{"s":12,"l":21,"v":0.03},{"s":13,"l":21,"v":0.03},{"s":14,"l":21,"v":0.03},{"s":15,"l":21,"v":0.03},{"s":16,"l":21,"v":0.03},{"s":17,"l":21,"v":0.03},{"s":18,"l":21,"v":0.03},{"s":19,"l":21,"v":0.03},{"s":20,"l":21,"v":0.03},{"s":21,"l":21,"v":0.03},{"s":22,"l":21,"v":0.03},{"s":23,"l":21,"v":0.03},{"s":24,"l":21,"v":0.03},{"s":25,"l":21,"v":0.03},{"s":26,"l":21,"v":0.03},{"s":27,"l":21,"v":0.03},{"s":28,"l":21,"v":0.03},{"s":29,"l":21,"v":0.03},{"s":30,"l":21,"v":0.03},{"s":31,"l":21,"v":0.03},{"s":32,"l":21,"v":0.03},{"s":33,"l":21,"v":0.03},{"s":34,"l":21,"v":0.03},{"s":35,"l":21,"v":0.03},{"s":36,"l":21,"v":0.03},{"s":37,"l":21,"v":0.03},{"s":38,"l":21,"v":0.03},{"s":39,"l":21,"v":0.03},{"s":40,"l":21,"v":0.03},{"s":41,"l":21,"v":0.03},{"s":42,"l":21,"v":0.03},{"s":43,"l":21,"v":0.03},{"s":44,"l":21,"v":0.03},{"s":45,"l":21,"v":0.018},{"s":46,"l":21,"v":0.018},{"s":47,"l":21,"v":0.018},{"s":48,"l":21,"v":0.005},{"s":49,"l":21,"v":0.005},
{"s":1,"l":22,"v":0.005},{"s":2,"l":22,"v":0.005},{"s":3,"l":22,"v":0.018},{"s":4,"l":22,"v":0.018},{"s":5,"l":22,"v":0.018},{"s":6,"l":22,"v":0.018},{"s":7,"l":22,"v":0.018},{"s":8,"l":22,"v":0.03},{"s":9,"l":22,"v":0.03},{"s":10,"l":22,"v":0.03},{"s":11,"l":22,"v":0.03},{"s":12,"l":22,"v":0.03},{"s":13,"l":22,"v":0.03},{"s":14,"l":22,"v":0.03},{"s":15,"l":22,"v":0.03},{"s":16,"l":22,"v":0.03},{"s":17,"l":22,"v":0.03},{"s":18,"l":22,"v":0.03},{"s":19,"l":22,"v":0.03},{"s":20,"l":22,"v":0.03},{"s":21,"l":22,"v":0.03},{"s":22,"l":22,"v":0.03},{"s":23,"l":22,"v":0.03},{"s":24,"l":22,"v":0.03},{"s":25,"l":22,"v":0.03},{"s":26,"l":22,"v":0.03},{"s":27,"l":22,"v":0.03},{"s":28,"l":22,"v":0.03},{"s":29,"l":22,"v":0.03},{"s":30,"l":22,"v":0.03},{"s":31,"l":22,"v":0.03},{"s":32,"l":22,"v":0.03},{"s":33,"l":22,"v":0.03},{"s":34,"l":22,"v":0.03},{"s":35,"l":22,"v":0.03},{"s":36,"l":22,"v":0.03},{"s":37,"l":22,"v":0.03},{"s":38,"l":22,"v":0.03},{"s":39,"l":22,"v":0.03},{"s":40,"l":22,"v":0.03},{"s":41,"l":22,"v":0.03},{"s":42,"l":22,"v":0.03},{"s":43,"l":22,"v":0.03},{"s":44,"l":22,"v":0.03},{"s":45,"l":22,"v":0.018},{"s":46,"l":22,"v":0.018},{"s":47,"l":22,"v":0.018},{"s":48,"l":22,"v":0.005},{"s":49,"l":22,"v":0.005},
{"s":1,"l":23,"v":0.005},{"s":2,"l":23,"v":0.005},{"s":3,"l":23,"v":0.018},{"s":4,"l":23,"v":0.018},{"s":5,"l":23,"v":0.018},{"s":6,"l":23,"v":0.018},{"s":7,"l":23,"v":0.018},{"s":8,"l":23,"v":0.03},{"s":9,"l":23,"v":0.03},{"s":10,"l":23,"v":0.03},{"s":11,"l":23,"v":0.03},{"s":12,"l":23,"v":0.03},{"s":13,"l":23,"v":0.03},{"s":14,"l":23,"v":0.03},{"s":15,"l":23,"v":0.03},{"s":16,"l":23,"v":0.03},{"s":17,"l":23,"v":0.03},{"s":18,"l":23,"v":0.03},{"s":19,"l":23,"v":0.03},{"s":20,"l":23,"v":0.03},{"s":21,"l":23,"v":0.03},{"s":22,"l":23,"v":0.03},{"s":23,"l":23,"v":0.03},{"s":24,"l":23,"v":0.03},{"s":25,"l":23,"v":0.03},{"s":26,"l":23,"v":0.03},{"s":27,"l":23,"v":0.03},{"s":28,"l":23,"v":0.03},{"s":29,"l":23,"v":0.03},{"s":30,"l":23,"v":0.03},{"s":31,"l":23,"v":0.03},{"s":32,"l":23,"v":0.03},{"s":33,"l":23,"v":0.03},{"s":34,"l":23,"v":0.03},{"s":35,"l":23,"v":0.03},{"s":36,"l":23,"v":0.03},{"s":37,"l":23,"v":0.03},{"s":38,"l":23,"v":0.03},{"s":39,"l":23,"v":0.03},{"s":40,"l":23,"v":0.03},{"s":41,"l":23,"v":0.03},{"s":42,"l":23,"v":0.03},{"s":43,"l":23,"v":0.03},{"s":44,"l":23,"v":0.03},{"s":45,"l":23,"v":0.018},{"s":46,"l":23,"v":0.018},{"s":47,"l":23,"v":0.018},{"s":48,"l":23,"v":0.005},{"s":49,"l":23,"v":0.005},
{"s":1,"l":24,"v":0.005},{"s":2,"l":24,"v":0.005},{"s":3,"l":24,"v":0.018},{"s":4,"l":24,"v":0.018},{"s":5,"l":24,"v":0.018},{"s":6,"l":24,"v":0.018},{"s":7,"l":24,"v":0.018},{"s":8,"l":24,"v":0.03},{"s":9,"l":24,"v":0.03},{"s":10,"l":24,"v":0.03},{"s":11,"l":24,"v":0.03},{"s":12,"l":24,"v":0.03},{"s":13,"l":24,"v":0.03},{"s":14,"l":24,"v":0.03},{"s":15,"l":24,"v":0.03},{"s":16,"l":24,"v":0.03},{"s":17,"l":24,"v":0.03},{"s":18,"l":24,"v":0.03},{"s":19,"l":24,"v":0.03},{"s":20,"l":24,"v":0.03},{"s":21,"l":24,"v":0.03},{"s":22,"l":24,"v":0.03},{"s":23,"l":24,"v":0.03},{"s":24,"l":24,"v":0.03},{"s":25,"l":24,"v":0.03},{"s":26,"l":24,"v":0.03},{"s":27,"l":24,"v":0.03},{"s":28,"l":24,"v":0.03},{"s":29,"l":24,"v":0.03},{"s":30,"l":24,"v":0.03},{"s":31,"l":24,"v":0.03},{"s":32,"l":24,"v":0.03},{"s":33,"l":24,"v":0.03},{"s":34,"l":24,"v":0.03},{"s":35,"l":24,"v":0.03},{"s":36,"l":24,"v":0.03},{"s":37,"l":24,"v":0.03},{"s":38,"l":24,"v":0.03},{"s":39,"l":24,"v":0.03},{"s":40,"l":24,"v":0.03},{"s":41,"l":24,"v":0.03},{"s":42,"l":24,"v":0.03},{"s":43,"l":24,"v":0.03},{"s":44,"l":24,"v":0.03},{"s":45,"l":24,"v":0.018},{"s":46,"l":24,"v":0.018},{"s":47,"l":24,"v":0.018},{"s":48,"l":24,"v":0.005},{"s":49,"l":24,"v":0.005},
{"s":1,"l":25,"v":0.005},{"s":2,"l":25,"v":0.005},{"s":3,"l":25,"v":0.018},{"s":4,"l":25,"v":0.018},{"s":5,"l":25,"v":0.018},{"s":6,"l":25,"v":0.018},{"s":7,"l":25,"v":0.018},{"s":8,"l":25,"v":0.03},{"s":9,"l":25,"v":0.03},{"s":10,"l":25,"v":0.03},{"s":11,"l":25,"v":0.03},{"s":12,"l":25,"v":0.03},{"s":13,"l":25,"v":0.03},{"s":14,"l":25,"v":0.03},{"s":15,"l":25,"v":0.03},{"s":16,"l":25,"v":0.03},{"s":17,"l":25,"v":0.03},{"s":18,"l":25,"v":0.03},{"s":19,"l":25,"v":0.03},{"s":20,"l":25,"v":0.03},{"s":21,"l":25,"v":0.03},{"s":22,"l":25,"v":0.03},{"s":23,"l":25,"v":0.03},{"s":24,"l":25,"v":0.03},{"s":25,"l":25,"v":0.03},{"s":26,"l":25,"v":0.03},{"s":27,"l":25,"v":0.03},{"s":28,"l":25,"v":0.03},{"s":29,"l":25,"v":0.03},{"s":30,"l":25,"v":0.03},{"s":31,"l":25,"v":0.03},{"s":32,"l":25,"v":0.03},{"s":33,"l":25,"v":0.03},{"s":34,"l":25,"v":0.03},{"s":35,"l":25,"v":0.03},{"s":36,"l":25,"v":0.03},{"s":37,"l":25,"v":0.03},{"s":38,"l":25,"v":0.03},{"s":39,"l":25,"v":0.03},{"s":40,"l":25,"v":0.03},{"s":41,"l":25,"v":0.03},{"s":42,"l":25,"v":0.03},{"s":43,"l":25,"v":0.03},{"s":44,"l":25,"v":0.03},{"s":45,"l":25,"v":0.018},{"s":46,"l":25,"v":0.018},{"s":47,"l":25,"v":0.018},{"s":48,"l":25,"v":0.005},{"s":49,"l":25,"v":0.005},
{"s":1,"l":26,"v":0.005},{"s":2,"l":26,"v":0.005},{"s":3,"l":26,"v":0.018},{"s":4,"l":26,"v":0.018},{"s":5,"l":26,"v":0.018},{"s":6,"l":26,"v":0.018},{"s":7,"l":26,"v":0.018},{"s":8,"l":26,"v":0.03},{"s":9,"l":26,"v":0.03},{"s":10,"l":26,"v":0.03},{"s":11,"l":26,"v":0.03},{"s":12,"l":26,"v":0.03},{"s":13,"l":26,"v":0.03},{"s":14,"l":26,"v":0.03},{"s":15,"l":26,"v":0.03},{"s":16,"l":26,"v":0.03},{"s":17,"l":26,"v":0.03},{"s":18,"l":26,"v":0.03},{"s":19,"l":26,"v":0.03},{"s":20,"l":26,"v":0.03},{"s":21,"l":26,"v":0.03},{"s":22,"l":26,"v":0.03},{"s":23,"l":26,"v":0.03},{"s":24,"l":26,"v":0.03},{"s":25,"l":26,"v":0.03},{"s":26,"l":26,"v":0.03},{"s":27,"l":26,"v":0.03},{"s":28,"l":26,"v":0.03},{"s":29,"l":26,"v":0.03},{"s":30,"l":26,"v":0.03},{"s":31,"l":26,"v":0.03},{"s":32,"l":26,"v":0.03},{"s":33,"l":26,"v":0.03},{"s":34,"l":26,"v":0.03},{"s":35,"l":26,"v":0.03},{"s":36,"l":26,"v":0.03},{"s":37,"l":26,"v":0.03},{"s":38,"l":26,"v":0.03},{"s":39,"l":26,"v":0.03},{"s":40,"l":26,"v":0.03},{"s":41,"l":26,"v":0.03},{"s":42,"l":26,"v":0.03},{"s":43,"l":26,"v":0.03},{"s":44,"l":26,"v":0.03},{"s":45,"l":26,"v":0.018},{"s":46,"l":26,"v":0.018},{"s":47,"l":26,"v":0.018},{"s":48,"l":26,"v":0.005},{"s":49,"l":26,"v":0.005},
{"s":1,"l":27,"v":0.005},{"s":2,"l":27,"v":0.005},{"s":3,"l":27,"v":0.018},{"s":4,"l":27,"v":0.018},{"s":5,"l":27,"v":0.018},{"s":6,"l":27,"v":0.018},{"s":7,"l":27,"v":0.018},{"s":8,"l":27,"v":0.03},{"s":9,"l":27,"v":0.03},{"s":10,"l":27,"v":0.03},{"s":11,"l":27,"v":0.03},{"s":12,"l":27,"v":0.03},{"s":13,"l":27,"v":0.03},{"s":14,"l":27,"v":0.03},{"s":15,"l":27,"v":0.03},{"s":16,"l":27,"v":0.03},{"s":17,"l":27,"v":0.03},{"s":18,"l":27,"v":0.03},{"s":19,"l":27,"v":0.03},{"s":20,"l":27,"v":0.03},{"s":21,"l":27,"v":0.03},{"s":22,"l":27,"v":0.03},{"s":23,"l":27,"v":0.03},{"s":24,"l":27,"v":0.03},{"s":25,"l":27,"v":0.03},{"s":26,"l":27,"v":0.03},{"s":27,"l":27,"v":0.03},{"s":28,"l":27,"v":0.03},{"s":29,"l":27,"v":0.03},{"s":30,"l":27,"v":0.03},{"s":31,"l":27,"v":0.03},{"s":32,"l":27,"v":0.03},{"s":33,"l":27,"v":0.03},{"s":34,"l":27,"v":0.03},{"s":35,"l":27,"v":0.03},{"s":36,"l":27,"v":0.03},{"s":37,"l":27,"v":0.03},{"s":38,"l":27,"v":0.03},{"s":39,"l":27,"v":0.03},{"s":40,"l":27,"v":0.03},{"s":41,"l":27,"v":0.03},{"s":42,"l":27,"v":0.03},{"s":43,"l":27,"v":0.03},{"s":44,"l":27,"v":0.03},{"s":45,"l":27,"v":0.018},{"s":46,"l":27,"v":0.018},{"s":47,"l":27,"v":0.018},{"s":48,"l":27,"v":0.005},{"s":49,"l":27,"v":0.005},
{"s":1,"l":28,"v":0.005},{"s":2,"l":28,"v":0.005},{"s":3,"l":28,"v":0.018},{"s":4,"l":28,"v":0.018},{"s":5,"l":28,"v":0.018},{"s":6,"l":28,"v":0.018},{"s":7,"l":28,"v":0.018},{"s":8,"l":28,"v":0.03},{"s":9,"l":28,"v":0.03},{"s":10,"l":28,"v":0.03},{"s":11,"l":28,"v":0.03},{"s":12,"l":28,"v":0.03},{"s":13,"l":28,"v":0.03},{"s":14,"l":28,"v":0.03},{"s":15,"l":28,"v":0.03},{"s":16,"l":28,"v":0.03},{"s":17,"l":28,"v":0.03},{"s":18,"l":28,"v":0.03},{"s":19,"l":28,"v":0.03},{"s":20,"l":28,"v":0.03},{"s":21,"l":28,"v":0.03},{"s":22,"l":28,"v":0.03},{"s":23,"l":28,"v":0.03},{"s":24,"l":28,"v":0.03},{"s":25,"l":28,"v":0.03},{"s":26,"l":28,"v":0.03},{"s":27,"l":28,"v":0.03},{"s":28,"l":28,"v":0.03},{"s":29,"l":28,"v":0.03},{"s":30,"l":28,"v":0.03},{"s":31,"l":28,"v":0.03},{"s":32,"l":28,"v":0.03},{"s":33,"l":28,"v":0.03},{"s":34,"l":28,"v":0.03},{"s":35,"l":28,"v":0.03},{"s":36,"l":28,"v":0.03},{"s":37,"l":28,"v":0.03},{"s":38,"l":28,"v":0.03},{"s":39,"l":28,"v":0.03},{"s":40,"l":28,"v":0.03},{"s":41,"l":28,"v":0.03},{"s":42,"l":28,"v":0.03},{"s":43,"l":28,"v":0.03},{"s":44,"l":28,"v":0.03},{"s":45,"l":28,"v":0.018},{"s":46,"l":28,"v":0.018},{"s":47,"l":28,"v":0.018},{"s":48,"l":28,"v":0.005},{"s":49,"l":28,"v":0.005},
{"s":1,"l":29,"v":0.005},{"s":2,"l":29,"v":0.005},{"s":3,"l":29,"v":0.018},{"s":4,"l":29,"v":0.018},{"s":5,"l":29,"v":0.018},{"s":6,"l":29,"v":0.018},{"s":7,"l":29,"v":0.018},{"s":8,"l":29,"v":0.03},{"s":9,"l":29,"v":0.03},{"s":10,"l":29,"v":0.03},{"s":11,"l":29,"v":0.03},{"s":12,"l":29,"v":0.03},{"s":13,"l":29,"v":0.03},{"s":14,"l":29,"v":0.03},{"s":15,"l":29,"v":0.03},{"s":16,"l":29,"v":0.03},{"s":17,"l":29,"v":0.03},{"s":18,"l":29,"v":0.03},{"s":19,"l":29,"v":0.03},{"s":20,"l":29,"v":0.03},{"s":21,"l":29,"v":0.03},{"s":22,"l":29,"v":0.03},{"s":23,"l":29,"v":0.03},{"s":24,"l":29,"v":0.03},{"s":25,"l":29,"v":0.03},{"s":26,"l":29,"v":0.03},{"s":27,"l":29,"v":0.03},{"s":28,"l":29,"v":0.03},{"s":29,"l":29,"v":0.03},{"s":30,"l":29,"v":0.03},{"s":31,"l":29,"v":0.03},{"s":32,"l":29,"v":0.03},{"s":33,"l":29,"v":0.03},{"s":34,"l":29,"v":0.03},{"s":35,"l":29,"v":0.03},{"s":36,"l":29,"v":0.03},{"s":37,"l":29,"v":0.03},{"s":38,"l":29,"v":0.03},{"s":39,"l":29,"v":0.03},{"s":40,"l":29,"v":0.03},{"s":41,"l":29,"v":0.03},{"s":42,"l":29,"v":0.03},{"s":43,"l":29,"v":0.03},{"s":44,"l":29,"v":0.03},{"s":45,"l":29,"v":0.018},{"s":46,"l":29,"v":0.018},{"s":47,"l":29,"v":0.018},{"s":48,"l":29,"v":0.005},{"s":49,"l":29,"v":0.005},
{"s":1,"l":30,"v":0.005},{"s":2,"l":30,"v":0.005},{"s":3,"l":30,"v":0.018},{"s":4,"l":30,"v":0.018},{"s":5,"l":30,"v":0.018},{"s":6,"l":30,"v":0.018},{"s":7,"l":30,"v":0.018},{"s":8,"l":30,"v":0.03},{"s":9,"l":30,"v":0.03},{"s":10,"l":30,"v":0.03},{"s":11,"l":30,"v":0.03},{"s":12,"l":30,"v":0.03},{"s":13,"l":30,"v":0.03},{"s":14,"l":30,"v":0.03},{"s":15,"l":30,"v":0.03},{"s":16,"l":30,"v":0.03},{"s":17,"l":30,"v":0.03},{"s":18,"l":30,"v":0.03},{"s":19,"l":30,"v":0.03},{"s":20,"l":30,"v":0.03},{"s":21,"l":30,"v":0.03},{"s":22,"l":30,"v":0.03},{"s":23,"l":30,"v":0.03},{"s":24,"l":30,"v":0.03},{"s":25,"l":30,"v":0.03},{"s":26,"l":30,"v":0.03},{"s":27,"l":30,"v":0.03},{"s":28,"l":30,"v":0.03},{"s":29,"l":30,"v":0.03},{"s":30,"l":30,"v":0.03},{"s":31,"l":30,"v":0.03},{"s":32,"l":30,"v":0.03},{"s":33,"l":30,"v":0.03},{"s":34,"l":30,"v":0.03},{"s":35,"l":30,"v":0.03},{"s":36,"l":30,"v":0.03},{"s":37,"l":30,"v":0.03},{"s":38,"l":30,"v":0.03},{"s":39,"l":30,"v":0.03},{"s":40,"l":30,"v":0.03},{"s":41,"l":30,"v":0.03},{"s":42,"l":30,"v":0.03},{"s":43,"l":30,"v":0.03},{"s":44,"l":30,"v":0.03},{"s":45,"l":30,"v":0.018},{"s":46,"l":30,"v":0.018},{"s":47,"l":30,"v":0.018},{"s":48,"l":30,"v":0.005},{"s":49,"l":30,"v":0.005},
{"s":1,"l":31,"v":0.005},{"s":2,"l":31,"v":0.005},{"s":3,"l":31,"v":0.018},{"s":4,"l":31,"v":0.018},{"s":5,"l":31,"v":0.018},{"s":6,"l":31,"v":0.018},{"s":7,"l":31,"v":0.018},{"s":8,"l":31,"v":0.03},{"s":9,"l":31,"v":0.03},{"s":10,"l":31,"v":0.03},{"s":11,"l":31,"v":0.03},{"s":12,"l":31,"v":0.03},{"s":13,"l":31,"v":0.03},{"s":14,"l":31,"v":0.03},{"s":15,"l":31,"v":0.03},{"s":16,"l":31,"v":0.03},{"s":17,"l":31,"v":0.03},{"s":18,"l":31,"v":0.03},{"s":19,"l":31,"v":0.03},{"s":20,"l":31,"v":0.03},{"s":21,"l":31,"v":0.03},{"s":22,"l":31,"v":0.03},{"s":23,"l":31,"v":0.03},{"s":24,"l":31,"v":0.03},{"s":25,"l":31,"v":0.03},{"s":26,"l":31,"v":0.03},{"s":27,"l":31,"v":0.03},{"s":28,"l":31,"v":0.03},{"s":29,"l":31,"v":0.03},{"s":30,"l":31,"v":0.03},{"s":31,"l":31,"v":0.03},{"s":32,"l":31,"v":0.03},{"s":33,"l":31,"v":0.03},{"s":34,"l":31,"v":0.03},{"s":35,"l":31,"v":0.03},{"s":36,"l":31,"v":0.03},{"s":37,"l":31,"v":0.03},{"s":38,"l":31,"v":0.03},{"s":39,"l":31,"v":0.03},{"s":40,"l":31,"v":0.03},{"s":41,"l":31,"v":0.03},{"s":42,"l":31,"v":0.03},{"s":43,"l":31,"v":0.03},{"s":44,"l":31,"v":0.03},{"s":45,"l":31,"v":0.018},{"s":46,"l":31,"v":0.018},{"s":47,"l":31,"v":0.018},{"s":48,"l":31,"v":0.005},{"s":49,"l":31,"v":0.005},
{"s":1,"l":32,"v":0.005},{"s":2,"l":32,"v":0.005},{"s":3,"l":32,"v":0.018},{"s":4,"l":32,"v":0.018},{"s":5,"l":32,"v":0.018},{"s":6,"l":32,"v":0.018},{"s":7,"l":32,"v":0.018},{"s":8,"l":32,"v":0.03},{"s":9,"l":32,"v":0.03},{"s":10,"l":32,"v":0.03},{"s":11,"l":32,"v":0.03},{"s":12,"l":32,"v":0.03},{"s":13,"l":32,"v":0.03},{"s":14,"l":32,"v":0.03},{"s":15,"l":32,"v":0.03},{"s":16,"l":32,"v":0.03},{"s":17,"l":32,"v":0.03},{"s":18,"l":32,"v":0.03},{"s":19,"l":32,"v":0.03},{"s":20,"l":32,"v":0.03},{"s":21,"l":32,"v":0.03},{"s":22,"l":32,"v":0.03},{"s":23,"l":32,"v":0.03},{"s":24,"l":32,"v":0.03},{"s":25,"l":32,"v":0.03},{"s":26,"l":32,"v":0.03},{"s":27,"l":32,"v":0.03},{"s":28,"l":32,"v":0.03},{"s":29,"l":32,"v":0.03},{"s":30,"l":32,"v":0.03},{"s":31,"l":32,"v":0.03},{"s":32,"l":32,"v":0.03},{"s":33,"l":32,"v":0.03},{"s":34,"l":32,"v":0.03},{"s":35,"l":32,"v":0.03},{"s":36,"l":32,"v":0.03},{"s":37,"l":32,"v":0.03},{"s":38,"l":32,"v":0.03},{"s":39,"l":32,"v":0.03},{"s":40,"l":32,"v":0.03},{"s":41,"l":32,"v":0.03},{"s":42,"l":32,"v":0.03},{"s":43,"l":32,"v":0.03},{"s":44,"l":32,"v":0.03},{"s":45,"l":32,"v":0.018},{"s":46,"l":32,"v":0.018},{"s":47,"l":32,"v":0.018},{"s":48,"l":32,"v":0.005},{"s":49,"l":32,"v":0.005}
]},
"mark":{"type":"rect","strokeWidth":0},
"encoding":{
"x":{"field":"s","type":"ordinal","scale":{"paddingInner":0,"paddingOuter":0},"axis":{"values":[10,20,30,40],"labelAngle":0,"title":"Sites","domain":false,"grid":false,"tickSize":5,"tickColor":"#111","labelFontSize":11,"labelColor":"#111","labelPadding":2,"titleFontSize":13,"titleFontWeight":"normal","titleColor":"#111","titlePadding":4}},
"y":{"field":"l","type":"ordinal","sort":"descending","scale":{"paddingInner":0,"paddingOuter":0},"axis":{"values":[0,10,20,30],"title":"Layer","domain":false,"grid":false,"tickSize":5,"tickColor":"#111","labelFontSize":11,"labelColor":"#111","labelPadding":3,"titleFontSize":13,"titleFontWeight":"normal","titleColor":"#111","titlePadding":6}},
"color":{"field":"v","type":"quantitative","scale":{"interpolate":"rgb","domain":[0,0.075,0.15,0.225,0.3,0.375,0.45,0.525,0.6],"range":["#181c43","#1f3c98","#1366c1","#5b9cc0","#f1eceb","#dc9e89","#c4573e","#9a1530","#3c0912"]},"legend":{"type":"gradient","title":null,"values":[0,0.2,0.4],"format":".1f","gradientLength":258,"gradientThickness":9,"offset":14,"labelFontSize":11,"labelOffset":6,"labelColor":"#111","gradientStrokeColor":"#888","gradientStrokeWidth":1}}
}}
